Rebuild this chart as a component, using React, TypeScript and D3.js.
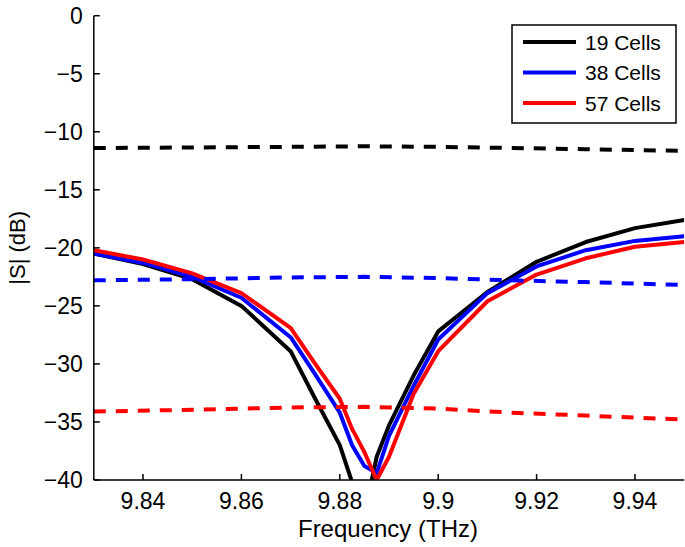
import * as d3 from 'd3';

// frequency grid (THz) shared by the solid curves
const freqs = [9.83, 9.84, 9.85, 9.86, 9.87, 9.875, 9.88, 9.8825, 9.885, 9.8875, 9.89, 9.895, 9.9, 9.91, 9.92, 9.93, 9.94, 9.95];
const cells19 = [-20.5, -21.4, -22.7, -25.0, -28.9, -33.0, -37.0, -40.2, -43.0, -38.0, -35.3, -31.0, -27.2, -23.8, -21.2, -19.5, -18.3, -17.6];
const cells38 = [-20.5, -21.3, -22.5, -24.3, -27.7, -30.9, -34.2, -37.0, -38.8, -39.4, -36.2, -31.9, -27.9, -23.9, -21.6, -20.2, -19.4, -19.0];
const cells57 = [-20.2, -21.0, -22.2, -23.9, -26.9, -30.0, -33.0, -35.6, -37.6, -40.0, -38.0, -32.6, -28.9, -24.6, -22.3, -20.9, -19.9, -19.5];

// dashed reference lines
const dashFreqs = [9.83, 9.85, 9.87, 9.885, 9.9, 9.915, 9.93, 9.95];
const dash19 = [-11.4, -11.35, -11.3, -11.25, -11.3, -11.4, -11.5, -11.65];
const dash38 = [-22.8, -22.7, -22.55, -22.5, -22.6, -22.8, -22.95, -23.2];
const dash57 = [-34.1, -33.95, -33.75, -33.7, -33.85, -34.2, -34.45, -34.8];

const legendLabels = ['19 Cells', '38 Cells', '57 Cells'];
const colors = ['#000000', '#0000ff', '#ff0000'];
const yTicks = [0, -5, -10, -15, -20, -25, -30, -35, -40];
const xTicks = [9.84, 9.86, 9.88, 9.9, 9.92, 9.94];

const W = 685;
const H = 547;
const left = 93.8;
const right = 684.2;
const top = 15.7;
const bottom = 480;
const font = 'Liberation Sans, Arial, Helvetica, sans-serif';

export default function App() {
  const x = d3.scaleLinear().domain([9.83, 9.95]).range([left, right]);
  const y = d3.scaleLinear().domain([-40, 0]).range([bottom, top]);

  const line = d3
    .line<[number, number]>()
    .x((d) => x(d[0]))
    .y((d) => y(d[1]));

  const solids = [cells19, cells38, cells57].map((vals) => line(freqs.map((f, i) => [f, vals[i]])));
  const dashes = [dash19, dash38, dash57].map((vals) => line(dashFreqs.map((f, i) => [f, vals[i]])));

  const fmt = (v: number) => (v < 0 ? '\u2212' + Math.abs(v) : String(v));

  return (
    <svg width={W} height={H} style={{ position: 'absolute', left: 0, top: 0, background: '#fff' }}>
      <defs>
        <clipPath id="plot">
          <rect x={left} y={top} width={right - left} height={bottom - top} />
        </clipPath>
      </defs>
      <g clipPath="url(#plot)" fill="none" strokeLinejoin="round">
        {solids.map((d, i) => (
          <path key={'s' + i} d={d ?? ''} stroke={colors[i]} strokeWidth={4} />
        ))}
        {dashes.map((d, i) => (
          <path key={'d' + i} d={d ?? ''} stroke={colors[i]} strokeWidth={4} strokeDasharray="12 10" />
        ))}
      </g>

      {/* axes */}
      <line x1={left} x2={left} y1={top} y2={bottom} stroke="#000" strokeWidth={1.5} />
      <line x1={left} x2={right} y1={bottom} y2={bottom} stroke="#000" strokeWidth={1.5} />
      {yTicks.map((t) => (
        <g key={'y' + t}>
          <line x1={left} x2={left + 6} y1={y(t)} y2={y(t)} stroke="#000" strokeWidth={1.5} />
          <text x={left - 11} y={y(t) + 8} textAnchor="end" fontFamily={font} fontSize={23}>
            {fmt(t)}
          </text>
        </g>
      ))}
      {xTicks.map((t) => (
        <g key={'x' + t}>
          <line x1={x(t)} x2={x(t)} y1={bottom} y2={bottom - 6} stroke="#000" strokeWidth={1.5} />
          <text x={x(t)} y={bottom + 29} textAnchor="middle" fontFamily={font} fontSize={23}>
            {d3.format('~g')(t)}
          </text>
        </g>
      ))}
      <text x={388} y={537} textAnchor="middle" fontFamily={font} fontSize={24}>
        Frequency (THz)
      </text>
      <text
        transform={`translate(25, ${(top + bottom) / 2}) rotate(-90)`}
        textAnchor="middle"
        fontFamily={font}
        fontSize={22}
      >
        |S| (dB)
      </text>

      {/* legend */}
      <rect x={512} y={25} width={164} height={98} fill="#fff" stroke="#000" strokeWidth={1.5} />
      {legendLabels.map((label, i) => (
        <g key={label}>
          <line x1={523} x2={576} y1={42 + i * 30.5} y2={42 + i * 30.5} stroke={colors[i]} strokeWidth={4} />
          <text x={585} y={42 + i * 30.5 + 7.5} fontFamily={font} fontSize={21}>
            {label}
          </text>
        </g>
      ))}
    </svg>
  );
}
